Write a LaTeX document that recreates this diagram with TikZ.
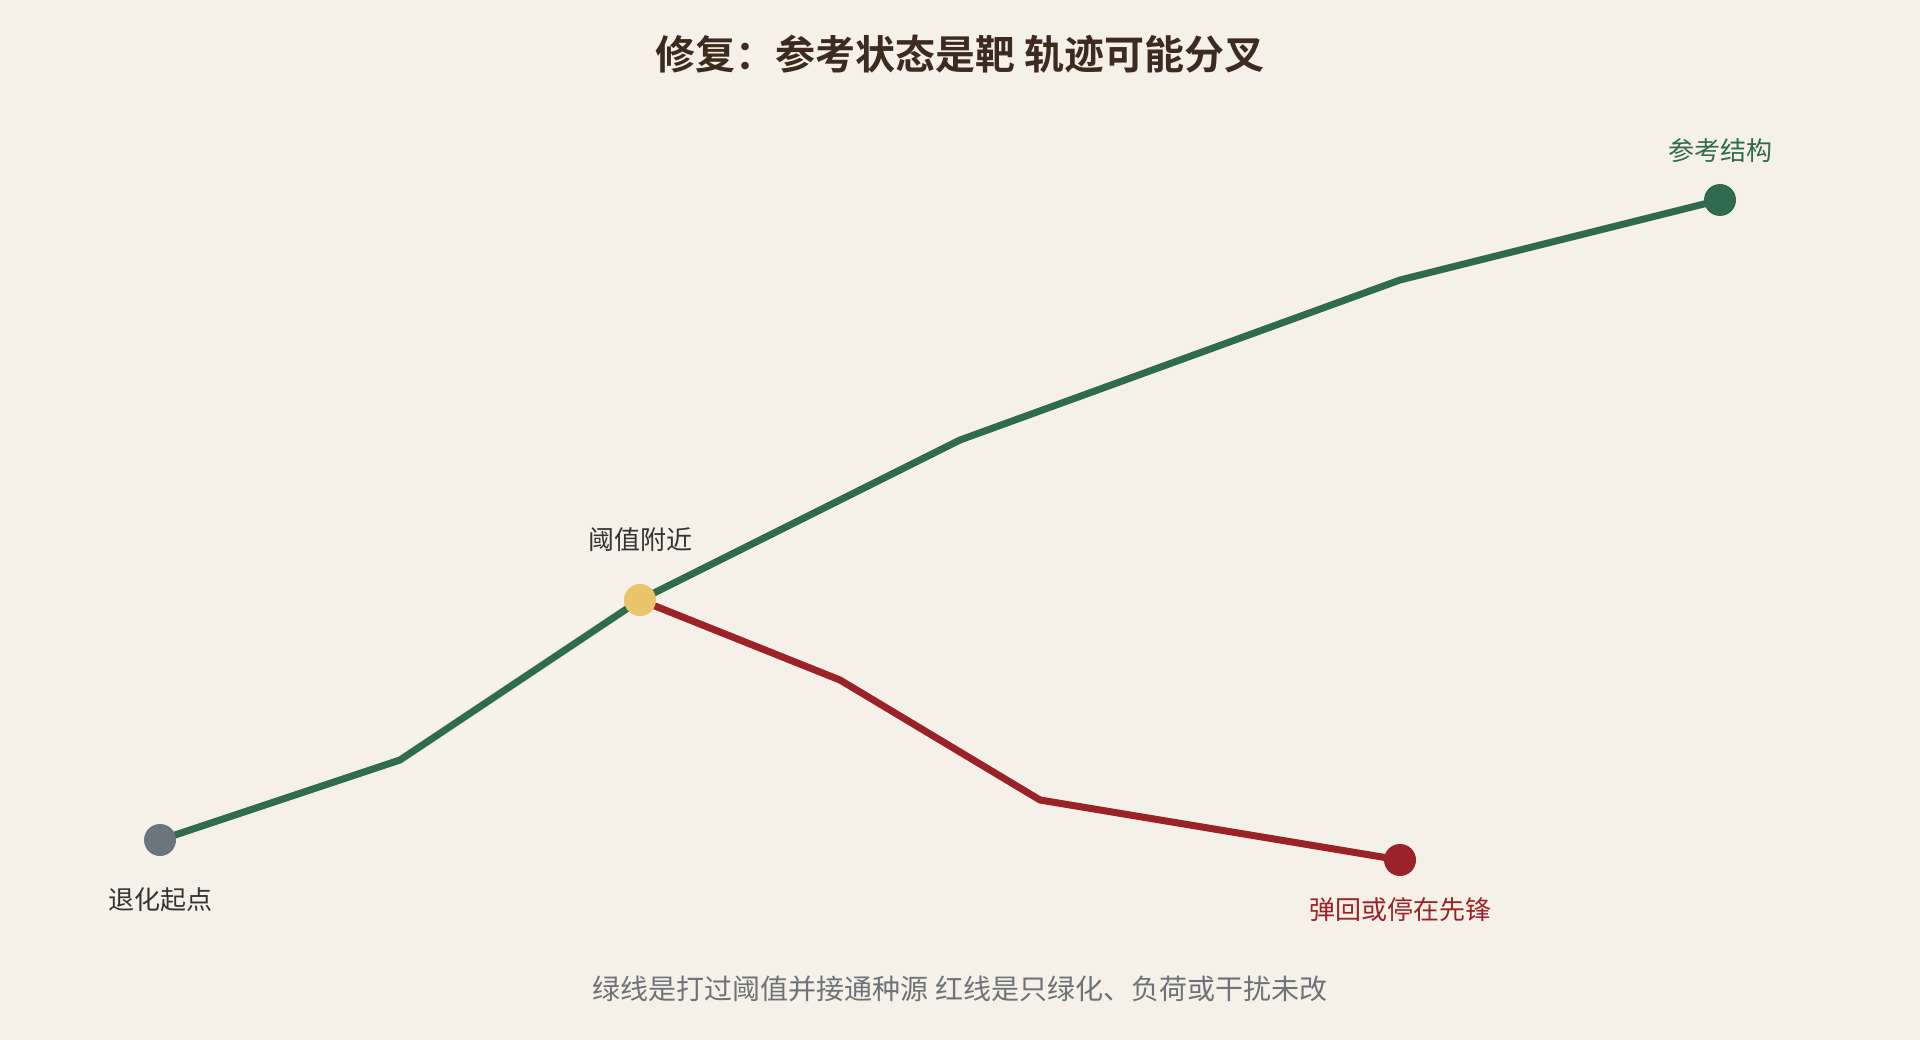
\documentclass[tikz,border=0pt]{standalone}
\usepackage{fontspec}
\setmainfont{Noto Sans CJK SC}[BoldFont=* Bold]
\definecolor{bg}{HTML}{F5F0E8}
\definecolor{cgreen}{HTML}{2E6B4F}
\definecolor{cred}{HTML}{9B2226}
\definecolor{cyellow}{HTML}{E9C46A}
\definecolor{cgray}{HTML}{6C757D}
\definecolor{ctitle}{HTML}{3D2B1F}
\definecolor{ctext}{HTML}{333333}
\definecolor{cfoot}{HTML}{6E737A}
\begin{document}
\begin{tikzpicture}[x=1pt,y=-1pt,
  dot/.style={circle,inner sep=0pt,minimum size=32pt},
  trace/.style={line width=7pt,line join=round,line cap=round},
  lbl/.style={inner sep=0pt,font=\fontsize{26}{30}\selectfont,anchor=center}]
\fill[bg] (0,0) rectangle (1920,1040);
\useasboundingbox (0,0) rectangle (1920,1040);
\node[inner sep=0pt,text=ctitle,font=\fontsize{40}{46}\selectfont\bfseries] (title) at (960,54) {修复：参考状态是靶 轨迹可能分叉};
\coordinate (g1) at (400,760);
\coordinate (g2) at (960,440);
\coordinate (g3) at (1400,280);
\coordinate (r1) at (840,680);
\coordinate (r2) at (1040,800);
\node[dot] (start) at (160,840) {};
\node[dot] (thr) at (640,600) {};
\node[dot] (ref) at (1720,200) {};
\node[dot] (back) at (1400,860) {};
\draw[trace,cgreen] (start.center) -- (g1) -- (thr.center) -- (g2) -- (g3) -- (ref.center);
\draw[trace,cred] (thr.center) -- (r1) -- (r2) -- (back.center);
\node[dot,fill=cgray] at (start) {};
\node[dot,fill=cyellow] at (thr) {};
\node[dot,fill=cgreen] at (ref) {};
\node[dot,fill=cred] at (back) {};
\node[lbl,text=ctext] (lstart) at (160,900) {退化起点};
\node[lbl,text=ctext] (lthr) at (640,540) {阈值附近};
\node[lbl,text=cgreen] (lref) at (1720,151) {参考结构};
\node[lbl,text=cred] (lback) at (1400,910) {弹回或停在先锋};
\node[inner sep=0pt,text=cfoot,font=\fontsize{28}{32}\selectfont] (foot) at (960,989) {绿线是打过阈值并接通种源 红线是只绿化、负荷或干扰未改};
\end{tikzpicture}
\end{document}
